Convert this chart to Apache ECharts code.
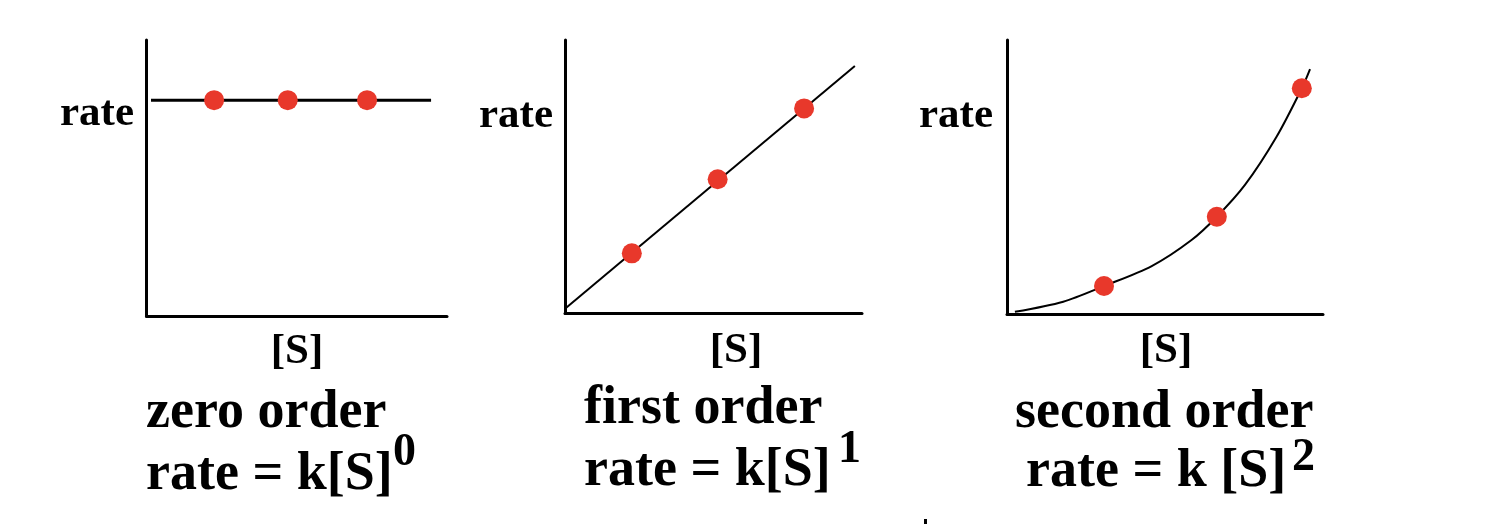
<!DOCTYPE html>
<html>
<head>
<meta charset="utf-8">
<script src="https://cdn.jsdelivr.net/npm/echarts@6/dist/echarts.min.js"></script>
<style>
html,body{margin:0;padding:0;background:#fff;}
#chart{width:1490px;height:524px;}
</style>
</head>
<body>
<div id="chart"></div>
<script>
// ---- data (axis units 0..10 for [S] and rate) ----
const zeroLineS = [0.15, 9.47];
const zeroLineRate = [7.82, 7.82];
const zeroDotsS = [2.25, 4.7, 7.34];
const zeroDotsRate = [7.82, 7.82, 7.82];

const firstLineS = [0.03, 9.76];
const firstLineRate = [0.2, 9.05];
const firstDotsS = [2.25, 5.14, 8.05];
const firstDotsRate = [2.2, 4.91, 7.5];

const secondCurveS = [0.25, 1.78, 3.07, 4.58, 5.84, 6.64, 7.53, 8.53, 9.33, 9.59];
const secondCurveRate = [0.08, 0.45, 1.02, 1.75, 2.70, 3.55, 4.71, 6.47, 8.24, 8.94];
const secondDotsS = [3.07, 6.64, 9.33];
const secondDotsRate = [1.02, 3.55, 8.24];

const yLabel = 'rate';
const xLabel = '[S]';
const titles = ['zero order', 'first order', 'second order'];
const equations = ['rate = k[S]', 'rate = k[S]', 'rate = k [S]'];
const exponents = ['0', '1', '2'];

const zip = (a, b) => a.map((v, i) => [v, b[i]]);

const FONT = '"Liberation Serif", "Times New Roman", serif';
const RED = '#E8382B';

function axis(gi) {
  return {
    type: 'value', gridIndex: gi, min: 0, max: 10,
    axisLine: { show: true, onZero: false, lineStyle: { color: '#000', width: 3 } },
    axisTick: { show: false }, axisLabel: { show: false }, splitLine: { show: false }
  };
}

const grids = [
  { left: 146.5, top: 40, width: 300.5, height: 276 },
  { left: 565, top: 40, width: 297, height: 273.5 },
  { left: 1007, top: 40, width: 316, height: 274 }
];

function lineSeries(gi, data, smooth) {
  return {
    type: 'line', xAxisIndex: gi, yAxisIndex: gi, data: data,
    smooth: smooth ? 0.3 : false,
    showSymbol: false, lineStyle: { color: '#000', width: gi === 0 ? 3 : 2 },
    silent: true, z: 2
  };
}
function dotSeries(gi, data) {
  return {
    type: 'scatter', xAxisIndex: gi, yAxisIndex: gi, data: data,
    symbol: 'circle', symbolSize: 20, itemStyle: { color: RED, opacity: 1 }, silent: true, z: 3
  };
}

function txtPos(x, y, text, size, align) {
  return {
    type: 'text', x: x, y: y,
    style: { text: text, font: 'bold ' + size + 'px ' + FONT, fill: '#000', align: align || 'left', verticalAlign: 'middle' },
    silent: true
  };
}

const graphics = [
  // y labels
  txtPos(60, 114, yLabel, 43),
  txtPos(479, 116, yLabel, 43),
  txtPos(919, 116, yLabel, 43),
  // x labels
  txtPos(297, 352, xLabel, 43, 'center'),
  txtPos(736, 351, xLabel, 43, 'center'),
  txtPos(1166, 351, xLabel, 43, 'center'),
  // titles
  txtPos(146, 413, titles[0], 54),
  txtPos(584, 409, titles[1], 54),
  txtPos(1015, 413, titles[2], 54),
  // equations
  txtPos(146, 475, equations[0], 54),
  txtPos(584, 471, equations[1], 54),
  txtPos(1026, 472, equations[2], 54),
  // exponents
  txtPos(393, 453, exponents[0], 46),
  txtPos(838, 450, exponents[1], 46),
  txtPos(1292, 458, exponents[2], 46),
  // stray mark
  { type: 'rect', shape: { x: 924, y: 519, width: 3, height: 5 }, style: { fill: '#000' }, silent: true }
];

const chart = echarts.init(document.getElementById('chart'), null, { renderer: 'canvas' });
chart.setOption({
  backgroundColor: '#fff',
  animation: false,
  grid: grids,
  xAxis: [axis(0), axis(1), axis(2)],
  yAxis: [axis(0), axis(1), axis(2)],
  series: [
    lineSeries(0, zip(zeroLineS, zeroLineRate), false),
    dotSeries(0, zip(zeroDotsS, zeroDotsRate)),
    lineSeries(1, zip(firstLineS, firstLineRate), false),
    dotSeries(1, zip(firstDotsS, firstDotsRate)),
    lineSeries(2, zip(secondCurveS, secondCurveRate), true),
    dotSeries(2, zip(secondDotsS, secondDotsRate))
  ],
  graphic: graphics
});
</script>
</body>
</html>
